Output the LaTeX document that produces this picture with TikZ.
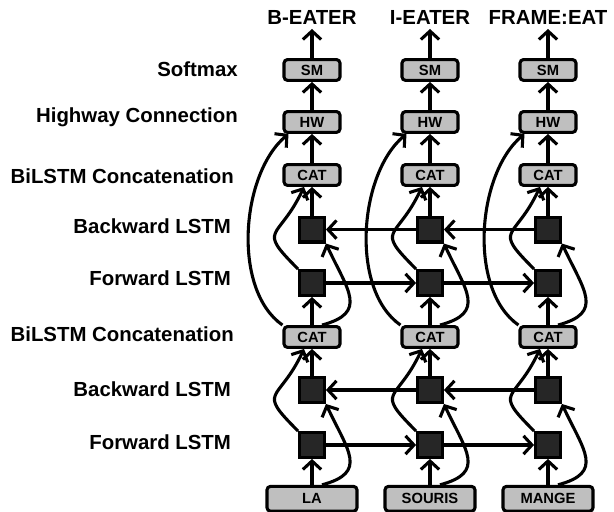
\documentclass[tikz,border=0pt]{standalone}
\usepackage{fontspec}
\setmainfont{Liberation Sans}
\usepackage{tikz}
\usetikzlibrary{arrows.meta, positioning}

\begin{document}
\begin{tikzpicture}[
    box/.style={rectangle, rounded corners=2.5pt, draw=black, fill=black!25, line width=2.2pt, minimum width=1.4cm, minimum height=0.52cm, inner sep=0pt, font=\fontsize{10.5}{11}\selectfont\bfseries},
    wordbox/.style={box, minimum width=2.25cm, minimum height=0.62cm},
    cell/.style={rectangle, draw=black, fill=black!85, line width=2.2pt, minimum size=0.62cm, inner sep=0pt},
    layer/.style={anchor=east, inner sep=0pt, font=\fontsize{14.5}{16}\selectfont\bfseries},
    tag/.style={font=\fontsize{14.5}{16}\selectfont\bfseries},
    arrow/.style={-{Straight Barb[length=6pt,width=13pt]}, line width=2.2pt}
]
    \useasboundingbox (0,0) rectangle (15.35,12.8);

    % Layer names
    \node[layer] (lsm) at (5.95, 11.075) {Softmax};
    \node[layer] (lhw) at (5.95, 9.875) {Highway Connection};
    \node[layer] (lcat2) at (5.85, 8.4) {BiLSTM Concatenation};
    \node[layer] (lbw2) at (5.78, 7.15) {Backward LSTM};
    \node[layer] (lfw2) at (5.78, 5.85) {Forward LSTM};
    \node[layer] (lcat1) at (5.85, 4.45) {BiLSTM Concatenation};
    \node[layer] (lbw1) at (5.78, 3.075) {Backward LSTM};
    \node[layer] (lfw1) at (5.78, 1.75) {Forward LSTM};

    % One column per word
    \foreach \i/\x/\word/\label in {1/7.8/LA/B-EATER, 2/10.75/SOURIS/I-EATER, 3/13.7/MANGE/FRAME:EAT} {
        \node[wordbox] (in\i) at (\x, 0.33) {\word};
        \node[cell] (fwbot\i) at (\x, 1.675) {};
        \node[cell] (bwbot\i) at (\x, 3.05) {};
        \node[box] (catbot\i) at (\x, 4.375) {CAT};
        \node[cell] (fwtop\i) at (\x, 5.725) {};
        \node[cell] (bwtop\i) at (\x, 7.06) {};
        \node[box] (cattop\i) at (\x, 8.425) {CAT};
        \node[box] (hw\i) at (\x, 9.75) {HW};
        \node[box] (sm\i) at (\x, 11.05) {SM};
        \node[tag] (tag\i) at (\x, 12.375) {\label};

        % first BiLSTM
        \draw[arrow] (in\i) -- (fwbot\i);
        \draw[arrow] ([xshift=0.25cm]in\i.north) to[out=15, in=-65, out distance=1.2cm, in distance=1.3cm] (bwbot\i.south east);
        \draw[arrow] (fwbot\i.north west) to[out=135, in=-115, distance=1.5cm] ([xshift=-0.2cm]catbot\i.south);
        \draw[arrow] (bwbot\i) -- (catbot\i);

        % second BiLSTM
        \draw[arrow] (catbot\i) -- (fwtop\i);
        \draw[arrow] ([xshift=0.25cm]catbot\i.north) to[out=15, in=-65, out distance=1.2cm, in distance=1.3cm] (bwtop\i.south east);
        \draw[arrow] (fwtop\i.north west) to[out=135, in=-115, distance=1.5cm] ([xshift=-0.2cm]cattop\i.south);
        \draw[arrow] (bwtop\i) -- (cattop\i);

        % highway and output
        \draw[arrow] (catbot\i.north west) to[out=145, in=-140, distance=1.55cm] ([xshift=0.15cm]hw\i.south west);
        \draw[arrow] (cattop\i) -- (hw\i);
        \draw[arrow] (hw\i) -- (sm\i);
        \draw[arrow] (sm\i) -- (tag\i);
    }

    % Recurrent links
    \draw[arrow] (fwbot1) -- (fwbot2);
    \draw[arrow] (fwbot2) -- (fwbot3);
    \draw[arrow] (bwbot3) -- (bwbot2);
    \draw[arrow] (bwbot2) -- (bwbot1);
    \draw[arrow] (fwtop1) -- (fwtop2);
    \draw[arrow] (fwtop2) -- (fwtop3);
    \draw[arrow] (bwtop3) -- (bwtop2);
    \draw[arrow] (bwtop2) -- (bwtop1);
\end{tikzpicture}
\end{document}
